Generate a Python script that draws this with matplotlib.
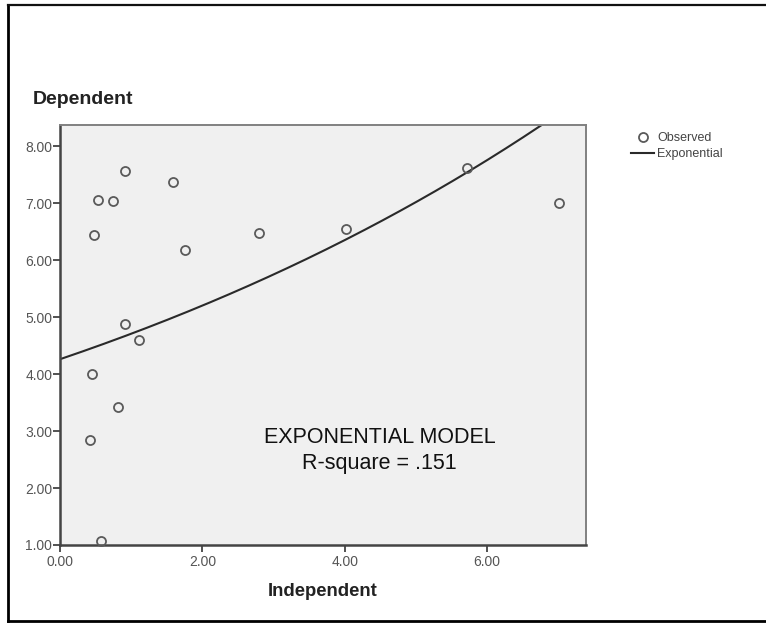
import numpy as np
from matplotlib import pyplot as plt
from matplotlib.lines import Line2D

# observed points
independent = [0.48, 0.53, 0.74, 0.91, 1.59, 1.76, 2.79, 4.02, 5.72, 7.01,
               0.91, 1.11, 0.45, 0.81, 0.42, 0.58]
dependent = [6.44, 7.05, 7.04, 7.56, 7.37, 6.18, 6.47, 6.54, 7.61, 7.00,
             4.88, 4.60, 4.00, 3.42, 2.84, 1.07]

# fitted exponential model y = a * exp(b * x)
fit_a = 4.26
fit_b = 0.0998
r_square = '.151'

x_ticks = [0, 2, 4, 6]
y_ticks = [1, 2, 3, 4, 5, 6, 7, 8]

plt.rcParams['font.family'] = ['Liberation Sans', 'DejaVu Sans']

W, H = 766, 623
fig = plt.figure(figsize=(W / 100, H / 100), dpi=100)
ax = fig.add_axes([60 / W, 1 - 545 / H, 526 / W, 420 / H])
ax.set_facecolor('#f0f0f0')

xx = np.linspace(0, 7.4, 300)
ax.plot(xx, fit_a * np.exp(fit_b * xx), color='#2a2a2a', lw=1.5, label='Exponential', zorder=2)
ax.plot(independent, dependent, 'o', mfc='none', mec='#5a5a5a', mew=1.3, ms=6.5,
        label='Observed', zorder=3, clip_on=False)

ax.set_xlim(0, 7.39)
ax.set_ylim(1, 8.37)
ax.set_xticks(x_ticks)
ax.set_yticks(y_ticks)
ax.set_xticklabels(['%.2f' % v for v in x_ticks])
ax.set_yticklabels(['%.2f' % v for v in y_ticks])
ax.tick_params(direction='out', length=5, width=1.2, color='#333333',
               labelsize=10, labelcolor='#555555')
ax.tick_params(axis='y', pad=0.5)
ax.tick_params(axis='x', pad=2.5)
for s in ['top', 'right']:
    ax.spines[s].set_color('#808080')
    ax.spines[s].set_linewidth(1.4)
for s in ['left', 'bottom']:
    ax.spines[s].set_color('#444444')
    ax.spines[s].set_linewidth(1.8)

ax.text(4.49, 2.89, 'EXPONENTIAL MODEL', ha='center', va='center', fontsize=15.5, color='#111111')
ax.text(4.49, 2.43, 'R-square = ' + r_square, ha='center', va='center', fontsize=15.5, color='#111111')

fig.text(33 / W, 1 - 100 / H, 'Dependent', fontsize=14, fontweight='bold',
         ha='left', va='center', color='#222222')
fig.text(323 / W, 1 - 591 / H, 'Independent', fontsize=13.3, fontweight='bold',
         ha='center', va='center', color='#222222')

h, l = ax.get_legend_handles_labels()
fig.legend(h[::-1], l[::-1], loc='upper left', bbox_to_anchor=(625 / W, 1 - 126 / H),
           frameon=False, fontsize=9, handlelength=1.8, handletextpad=0.3,
           labelspacing=0.3, borderpad=0, labelcolor='#444444')

# outer frame (no right edge visible)
fig.add_artist(Line2D([8 / W, 8 / W], [1 - 5 / H, 1 - 621 / H], transform=fig.transFigure,
                      color='black', lw=2))
fig.add_artist(Line2D([8 / W, 1], [1 - 5 / H, 1 - 5 / H], transform=fig.transFigure,
                      color='#111111', lw=1.6))
fig.add_artist(Line2D([8 / W, 1], [1 - 621 / H, 1 - 621 / H], transform=fig.transFigure,
                      color='black', lw=2))

fig.savefig('out.png', dpi=100)
